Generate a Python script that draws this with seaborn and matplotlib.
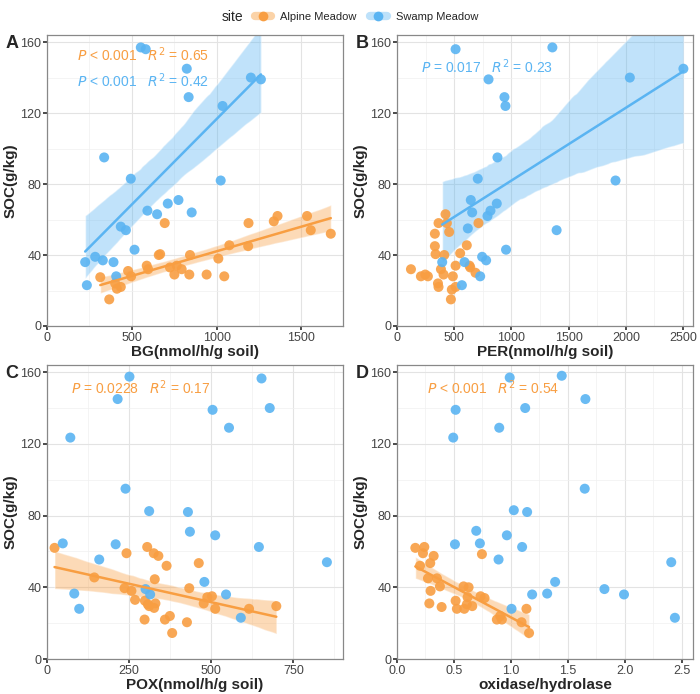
import numpy as np
import pandas as pd
import matplotlib
matplotlib.use('Agg')
import matplotlib.pyplot as plt
import seaborn as sns
from matplotlib.ticker import MultipleLocator, FormatStrFormatter
from matplotlib.lines import Line2D
from matplotlib.collections import PolyCollection
from matplotlib.offsetbox import HPacker

sns.set_theme(style='whitegrid')
plt.rcParams['font.family'] = ['Liberation Sans', 'DejaVu Sans']

ORANGE = '#F89E42'
BLUE = '#5AB4F2'

# ---- panel A: BG ----
bg_swamp_x = [225, 235, 284, 329, 337, 392, 408, 435, 465, 494, 516, 553, 582, 592, 649, 712, 775, 824, 835, 853, 1024, 1035, 1202, 1261]
bg_swamp_y = [36, 23, 39, 37, 95, 36, 28, 56, 54, 83, 43, 157, 156, 65, 63, 69, 71, 145, 129, 64, 82, 124, 140, 139]
bg_alp_x = [314, 367, 402, 412, 435, 478, 496, 588, 596, 659, 667, 694, 725, 751, 765, 794, 839, 843, 941, 1010, 1045, 1075, 1186, 1188, 1337, 1359, 1533, 1555, 1673]
bg_alp_y = [27.5, 15, 24, 21, 22, 31, 28, 34, 32, 40, 40.5, 58, 33, 29, 34, 32, 29, 40, 29, 38, 28, 45.5, 45, 58, 59, 62, 62, 54, 52]

# ---- panel B: PER ----
per_swamp_x = [512, 1358, 2503, 800, 2035, 939, 948, 878, 706, 1910, 645, 657, 872, 791, 817, 619, 1395, 953, 395, 590, 744, 779, 727, 567]
per_swamp_y = [156, 157, 145, 139, 140, 129, 124, 95, 83, 82, 71, 64, 69, 62, 65, 55, 54, 43, 36, 36, 39, 37, 28, 23]
per_alp_x = [122, 209, 247, 270, 331, 331, 337, 363, 358, 363, 384, 407, 424, 436, 456, 413, 488, 479, 471, 512, 512, 552, 610, 634, 640, 686, 712]
per_alp_y = [32, 28, 29, 28, 52, 45, 40.5, 58, 24, 22, 32, 29, 63, 58, 53, 40, 28, 20.5, 15, 22, 34, 41, 45.5, 34, 33, 30, 58]

# ---- panel C: POX ----
pox_swamp_x = [48, 71, 83, 98, 159, 209, 215, 239, 251, 311, 314, 300, 429, 435, 479, 504, 512, 554, 545, 590, 645, 653, 678, 852]
pox_swamp_y = [64.5, 123.5, 36.5, 28, 55.5, 64, 145, 95, 157.5, 82.5, 36, 39, 82, 71, 43, 139, 69, 129, 36, 23, 62.5, 156.5, 140, 54]
pox_alp_x = [23, 144, 242, 236, 257, 268, 297, 305, 298, 307, 311, 325, 339, 328, 330, 326, 364, 359, 374, 381, 433, 426, 462, 477, 488, 502, 512, 615, 698]
pox_alp_y = [62, 45.5, 59, 39.5, 38, 33, 22, 62.5, 32.5, 30.5, 29.5, 59, 57.5, 44.5, 31, 28.5, 52, 22, 24, 14.5, 39.5, 20.5, 53.5, 31, 34.5, 35, 28, 28, 29.5]

# ---- panel D: oxidase/hydrolase ----
ratio_swamp_x = [0.99, 1.447, 0.515, 1.126, 1.655, 0.898, 0.494, 1.649, 1.026, 1.143, 0.696, 0.728, 0.509, 0.965, 1.099, 0.892, 2.409, 1.389, 1.822, 1.187, 1.319, 1.994, 2.441, 1.006]
ratio_swamp_y = [157, 158, 139, 140, 145, 129, 123.5, 95, 83, 82, 71.5, 64.5, 64, 69, 62.5, 55.5, 54, 43, 39, 36, 36.5, 36, 23, 28]
ratio_alp_x = [0.161, 0.24, 0.228, 0.202, 0.322, 0.292, 0.272, 0.351, 0.295, 0.284, 0.377, 0.392, 0.585, 0.629, 0.515, 0.526, 0.591, 0.614, 0.661, 0.62, 0.734, 0.769, 0.746, 0.877, 0.921, 0.906, 1.094, 1.137, 1.16]
ratio_alp_y = [62, 62.5, 59, 52, 57.5, 53.5, 45, 45, 38, 31, 40.5, 29, 40.5, 40, 32.5, 28, 28, 30.5, 29.5, 34.5, 35, 34, 58.5, 22, 22, 24, 20.5, 28, 14.5]

panels = [
    dict(label='A', xlab='BG(nmol/h/g soil)', xlim=1745, step=500,
         alp=(bg_alp_x, bg_alp_y), swamp=(bg_swamp_x, bg_swamp_y), fit=('alp', 'swamp'),
         notes=[(r'$P$ < 0.001   $R^2$ = 0.65', ORANGE, 0.10, 0.91),
                (r'$P$ < 0.001   $R^2$ = 0.42', BLUE, 0.10, 0.82)]),
    dict(label='B', xlab='PER(nmol/h/g soil)', xlim=2587, step=500,
         alp=(per_alp_x, per_alp_y), swamp=(per_swamp_x, per_swamp_y), fit=('swamp',),
         notes=[(r'$P$ = 0.017   $R^2$ = 0.23', BLUE, 0.08, 0.87)]),
    dict(label='C', xlab='POX(nmol/h/g soil)', xlim=901, step=250,
         alp=(pox_alp_x, pox_alp_y), swamp=(pox_swamp_x, pox_swamp_y), fit=('alp',),
         notes=[(r'$P$ = 0.0228   $R^2$ = 0.17', ORANGE, 0.08, 0.90)]),
    dict(label='D', xlab='oxidase/hydrolase', xlim=2.6, step=0.5,
         alp=(ratio_alp_x, ratio_alp_y), swamp=(ratio_swamp_x, ratio_swamp_y), fit=('alp',),
         notes=[(r'$P$ < 0.001   $R^2$ = 0.54', ORANGE, 0.10, 0.90)]),
]

fig = plt.figure(figsize=(7.0, 6.94), dpi=100)
W, H = 700, 694
boxes = [(47, 35, 343, 326), (397, 35, 693, 326), (47, 365, 343, 659), (397, 365, 693, 659)]

for p, (l, t, r, b) in zip(panels, boxes):
    ax = fig.add_axes([l / W, 1 - b / H, (r - l) / W, (b - t) / H])
    for key, col in (('alp', ORANGE), ('swamp', BLUE)):
        x, y = p[key]
        df = pd.DataFrame({'x': x, 'y': y})
        sns.scatterplot(data=df, x='x', y='y', color=col, s=52, edgecolor='none',
                        alpha=0.9, ax=ax, zorder=3)
        if key in p['fit']:
            sns.regplot(data=df, x='x', y='y', scatter=False, ci=95, color=col,
                        line_kws=dict(lw=1.8, zorder=4), ax=ax)
    # stronger confidence bands, like ggplot's geom_smooth
    for c in ax.collections:
        if isinstance(c, PolyCollection):
            c.set_alpha(0.38)
            c.set_zorder(2)
    ax.set_xlim(0, p['xlim'])
    ax.set_ylim(0, 164)
    ax.xaxis.set_major_locator(MultipleLocator(p['step']))
    ax.xaxis.set_minor_locator(MultipleLocator(p['step'] / 2))
    ax.yaxis.set_major_locator(MultipleLocator(40))
    ax.yaxis.set_minor_locator(MultipleLocator(20))
    if p['step'] == 0.5:
        ax.xaxis.set_major_formatter(FormatStrFormatter('%.1f'))
    ax.grid(True, which='major', color='#E3E3E3', lw=0.8)
    ax.grid(True, which='minor', color='#F0F0F0', lw=0.5)
    for s in ax.spines.values():
        s.set_color('#888888')
        s.set_linewidth(0.9)
    ax.tick_params(axis='both', which='major', labelsize=9, length=3, color='#333333',
                   labelcolor='#444444', pad=1, bottom=True, left=True)
    ax.set_xlabel(p['xlab'], fontsize=11, fontweight='bold', labelpad=1)
    ax.set_ylabel('SOC(g/kg)', fontsize=11, fontweight='bold', labelpad=2)
    for txt, col, tx, ty in p['notes']:
        ax.text(tx, ty, txt, color=col, fontsize=10, transform=ax.transAxes, zorder=5)
    ax.text(-0.14, 1.0, p['label'], transform=ax.transAxes, fontsize=13,
            fontweight='bold', va='top', ha='left')

handles = [Line2D([], [], marker='o', color='#FBD3A8', lw=6, markersize=7,
                  markerfacecolor=ORANGE, markeredgecolor='none'),
           Line2D([], [], marker='o', color='#BDE1FA', lw=6, markersize=7,
                  markerfacecolor=BLUE, markeredgecolor='none')]
leg = fig.legend(handles, ['Alpine Meadow', 'Swamp Meadow'], loc='upper center',
                 bbox_to_anchor=(0.5, 1.0), ncol=2, frameon=False, fontsize=8,
                 title='site', handlelength=1.5, columnspacing=1.2)
leg.get_title().set_fontsize(10)
box = leg._legend_box
box._children = [HPacker(children=[box._children[0], box._children[1]], sep=8, pad=0, align='center')]

fig.savefig('out.png', dpi=100)
